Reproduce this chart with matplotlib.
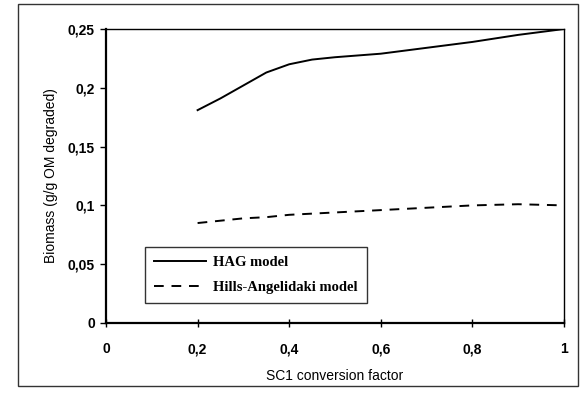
import matplotlib.pyplot as plt
from matplotlib.patches import Rectangle

# values
sc1 = [0.2, 0.25, 0.3, 0.35, 0.4, 0.45, 0.5, 0.6, 0.7, 0.8, 0.9, 1.0]
hag = [0.181, 0.191, 0.202, 0.213, 0.220, 0.224, 0.226, 0.229, 0.234, 0.239, 0.245, 0.250]
hills = [0.085, 0.087, 0.089, 0.090, 0.092, 0.093, 0.094, 0.096, 0.098, 0.100, 0.101, 0.100]

xticks = [0, 0.2, 0.4, 0.6, 0.8, 1]
xlabels = ['0', '0,2', '0,4', '0,6', '0,8', '1']
yticks = [0, 0.05, 0.1, 0.15, 0.2, 0.25]
ylabels = ['0', '0,05', '0,1', '0,15', '0,2', '0,25']

fig = plt.figure(figsize=(5.84, 3.93), dpi=100)
ax = fig.add_axes([106 / 584, 1 - 323 / 393, 458 / 584, 294 / 393])

# outer frame around the whole chart
fig.patches.append(Rectangle((18 / 584, 1 - 386 / 393), 560 / 584, 382 / 393,
                             transform=fig.transFigure, fill=False,
                             edgecolor='#333333', linewidth=1.0))

ax.plot(sc1, hag, color='black', linewidth=1.4, label='HAG model')
ax.plot(sc1, hills, color='black', linewidth=1.4, linestyle=(0, (5, 4)),
        label='Hills-Angelidaki model')

ax.set_xlim(0, 1)
ax.set_ylim(0, 0.25)
ax.set_xticks(xticks)
ax.set_xticklabels(xlabels)
ax.set_yticks(yticks)
ax.set_yticklabels(ylabels)
for lab in ax.get_xticklabels() + ax.get_yticklabels():
    lab.set_fontfamily('Liberation Sans')
    lab.set_fontweight('bold')
    lab.set_fontsize(10)
ax.tick_params(axis='x', direction='inout', length=6, width=1, pad=11)
ax.tick_params(axis='y', direction='out', length=4, width=1, pad=4)

for s in ['left', 'bottom']:
    ax.spines[s].set_linewidth(1.6)
for s in ['top', 'right']:
    ax.spines[s].set_linewidth(1.0)

ax.set_xlabel('SC1 conversion factor', fontfamily='Liberation Sans',
              fontsize=10, labelpad=9)
ax.set_ylabel('Biomass (g/g OM degraded)', fontfamily='Liberation Sans',
              fontsize=10, labelpad=7)

leg = ax.legend(loc='lower left', bbox_to_anchor=(0.085, 0.068),
                prop={'family': 'Liberation Serif', 'weight': 'bold', 'size': 10.5},
                frameon=True, fancybox=False, edgecolor='black',
                handlelength=3.6, handletextpad=0.5, borderpad=0.6,
                labelspacing=0.85, borderaxespad=0)
leg.get_frame().set_linewidth(1.0)

fig.savefig('out.png', dpi=100)
